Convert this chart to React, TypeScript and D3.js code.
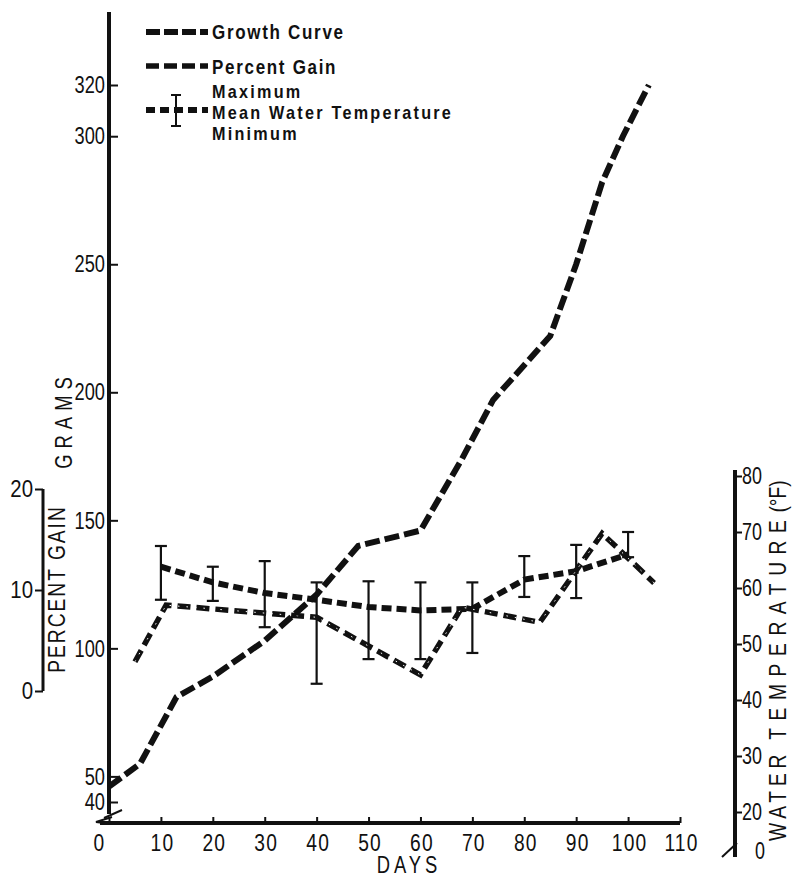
import React, { useEffect, useRef } from "react";
import * as d3 from "d3";

// growth curve (grams)
const growthDays = [0, 6, 13, 20, 30, 40, 48, 60, 68, 74, 85, 90, 95, 99, 104];
const growthGrams = [46, 55, 81, 89, 103, 121, 140, 146, 174, 197, 222, 250, 282, 300, 320];

// percent gain
const gainDays = [5, 11, 40, 60, 68, 83, 95, 105];
const gainPct = [2.9, 8.5, 7.3, 1.6, 8.3, 6.8, 15.6, 10.7];

// water temperature (F)
const tempDays = [10, 20, 30, 40, 50, 60, 70, 80, 90, 100];
const tempMean = [63.8, 61, 59.1, 57.9, 56.6, 56, 56.3, 61.5, 63, 66];
const tempMax = [67.5, 63.8, 64.8, 61, 61.2, 61, 61, 65.7, 67.7, 70];
const tempMin = [57.9, 57.7, 53, 42.9, 47.3, 47.3, 48.4, 58.4, 58.2, 65.5];

const dayTicks = [0, 10, 20, 30, 40, 50, 60, 70, 80, 90, 100, 110];
const gramTicks = [40, 50, 100, 150, 200, 250, 300, 320];
const pctTicks = [0, 10, 20];
const tempTicks = [20, 30, 40, 50, 60, 70, 80];

const FONT = "'Liberation Sans', Arial, sans-serif";
const INK = "#111";
const SQ = 0.8; // horizontal squeeze, the original type is a condensed face

const App = () => {
  const svgRef = useRef<SVGSVGElement>(null);

  useEffect(() => {
    const svg = d3.select(svgRef.current);
    svg.selectAll("*").remove();

    const x = d3.scaleLinear().domain([0, 110]).range([109, 680]);
    const yG = d3.scaleLinear().domain([40, 320]).range([802, 85]);
    const yP = d3.scaleLinear().domain([0, 20]).range([691, 489]);
    const yT = d3.scaleLinear().domain([20, 80]).range([812, 476]);

    const growth = growthDays.map((d, i) => [d, growthGrams[i]]);
    const gain = gainDays.map((d, i) => [d, gainPct[i]]);
    const temp = tempDays.map((d, i) => ({
      day: d,
      mean: tempMean[i],
      max: tempMax[i],
      min: tempMin[i],
    }));

    // axis lines
    const lineAttrs = (sel, w) =>
      sel.attr("stroke", INK).attr("stroke-width", w).attr("fill", "none");

    // grams axis
    lineAttrs(svg.append("line"), 4)
      .attr("x1", x(0)).attr("x2", x(0)).attr("y1", 12).attr("y2", 814);
    lineAttrs(svg.append("path"), 2).attr("d", "M104,818 L122,810");

    // days axis
    lineAttrs(svg.append("line"), 4)
      .attr("x1", 100).attr("x2", x(110)).attr("y1", 823).attr("y2", 823);
    lineAttrs(svg.append("path"), 2).attr("d", "M112,817 L96,822 L104,823");

    // percent axis
    lineAttrs(svg.append("line"), 3)
      .attr("x1", 43).attr("x2", 43).attr("y1", yP(20)).attr("y2", yP(0));

    // temperature axis
    lineAttrs(svg.append("line"), 4)
      .attr("x1", 735).attr("x2", 735).attr("y1", yT(80) - 6).attr("y2", 857);
    lineAttrs(svg.append("path"), 2).attr("d", "M722,857 L737,843");

    const styleAxis = (g, size) => {
      g.select(".domain").remove();
      g.attr("font-family", FONT).attr("font-size", size);
      g.selectAll("line").attr("stroke", INK).attr("stroke-width", 2);
      g.selectAll("text").attr("fill", INK);
    };

    const gAxis = svg
      .append("g")
      .attr("transform", `translate(${x(0)},0)`)
      .call(d3.axisRight(yG).tickValues(gramTicks).tickSize(9).tickFormat(d3.format("d")));
    styleAxis(gAxis, 24);
    gAxis
      .selectAll("text")
      .attr("x", 0)
      .attr("text-anchor", "end")
      .attr("transform", `translate(-4,0) scale(0.76,1)`);

    const pAxis = svg
      .append("g")
      .attr("transform", "translate(43,0)")
      .call(d3.axisLeft(yP).tickValues(pctTicks).tickSize(8).tickFormat(d3.format("d")));
    styleAxis(pAxis, 24);
    pAxis
      .selectAll("text")
      .attr("x", 0)
      .attr("transform", `translate(-10,0) scale(0.85,1)`);

    const tAxis = svg
      .append("g")
      .attr("transform", "translate(735,0)")
      .call(d3.axisRight(yT).tickValues(tempTicks).tickSize(7).tickFormat(d3.format("d")));
    styleAxis(tAxis, 23);
    tAxis
      .selectAll("text")
      .attr("x", 0)
      .attr("transform", `translate(7,0) scale(0.78,1)`);

    svg
      .append("text")
      .attr("transform", `translate(760,859) scale(0.78,1)`)
      .attr("text-anchor", "middle")
      .attr("font-family", FONT)
      .attr("font-size", 23)
      .attr("fill", INK)
      .text("0");

    const xAxis = svg
      .append("g")
      .attr("transform", "translate(0,823)")
      .call(d3.axisBottom(x).tickValues(dayTicks).tickSize(-6).tickFormat(d3.format("d")));
    styleAxis(xAxis, 24);
    xAxis
      .selectAll("text")
      .attr("y", 0)
      .attr("dy", 0)
      .attr("letter-spacing", 1.5)
      .attr("transform", (d) => `translate(${d === 0 ? -10 : 1},28) scale(${SQ},1)`);

    // axis titles
    const title = (tx, ty, rot, txt, size, spacing) =>
      svg
        .append("text")
        .attr("transform", `translate(${tx},${ty}) rotate(${rot}) scale(${SQ},1)`)
        .attr("text-anchor", "middle")
        .attr("font-family", FONT)
        .attr("font-size", size)
        .attr("letter-spacing", spacing)
        .attr("fill", INK)
        .text(txt);

    title(72, 420, -90, "GRAMS", 23, 7.5);
    title(65, 589, -90, "PERCENT GAIN", 24, 2.5);
    title(409, 873, 0, "DAYS", 23, 5);

    const wt = svg
      .append("text")
      .attr("transform", `translate(786,841) rotate(-90) scale(${SQ},1)`)
      .attr("font-family", FONT)
      .attr("font-size", 24)
      .attr("fill", INK);
    wt.append("tspan").attr("letter-spacing", 6).text("WATER ");
    wt.append("tspan").attr("letter-spacing", 9.5).text("TEMPERATURE");
    wt.append("tspan").attr("letter-spacing", 0).text("(°F)");

    // data lines
    const growthLine = d3
      .line()
      .x((d) => x(d[0]))
      .y((d) => yG(d[1]));
    const gainLine = d3
      .line()
      .x((d) => x(d[0]))
      .y((d) => yP(d[1]));
    const tempLine = d3
      .line()
      .x((d) => x(d.day))
      .y((d) => yT(d.mean));

    // error bars
    const bars = svg.append("g").attr("stroke", INK).attr("stroke-width", 2.2);
    temp.forEach((d) => {
      const cx = x(d.day);
      bars.append("line").attr("x1", cx).attr("x2", cx).attr("y1", yT(d.max)).attr("y2", yT(d.min));
      bars.append("line").attr("x1", cx - 6).attr("x2", cx + 6).attr("y1", yT(d.max)).attr("y2", yT(d.max));
      bars.append("line").attr("x1", cx - 6).attr("x2", cx + 6).attr("y1", yT(d.min)).attr("y2", yT(d.min));
    });

    svg
      .append("path")
      .datum(temp)
      .attr("d", tempLine)
      .attr("fill", "none")
      .attr("stroke", INK)
      .attr("stroke-width", 6)
      .attr("stroke-dasharray", "10,5");

    svg
      .append("path")
      .datum(gain)
      .attr("d", gainLine)
      .attr("fill", "none")
      .attr("stroke", INK)
      .attr("stroke-width", 5.5)
      .attr("stroke-dasharray", "13,6");
    svg
      .append("path")
      .datum(gain)
      .attr("d", gainLine)
      .attr("fill", "none")
      .attr("stroke", "#fff")
      .attr("stroke-width", 1)
      .attr("stroke-dasharray", "1.5,7");

    svg
      .append("path")
      .datum(growth)
      .attr("d", growthLine)
      .attr("fill", "none")
      .attr("stroke", INK)
      .attr("stroke-width", 6)
      .attr("stroke-dasharray", "15,5");

    // legend
    const lg = svg.append("g").attr("font-family", FONT).attr("fill", INK);
    const sample = (y, dash, w) =>
      lg
        .append("line")
        .attr("x1", 146)
        .attr("x2", 208)
        .attr("y1", y)
        .attr("y2", y)
        .attr("stroke", INK)
        .attr("stroke-width", w)
        .attr("stroke-dasharray", dash);
    sample(32, "14,4", 6);
    sample(66, "13,5", 5.5);
    sample(110, "9,5", 6);
    lg.append("line").attr("x1", 176).attr("x2", 176).attr("y1", 95).attr("y2", 126).attr("stroke", INK).attr("stroke-width", 2);
    lg.append("line").attr("x1", 171).attr("x2", 181).attr("y1", 95).attr("y2", 95).attr("stroke", INK).attr("stroke-width", 2);
    lg.append("line").attr("x1", 171).attr("x2", 181).attr("y1", 126).attr("y2", 126).attr("stroke", INK).attr("stroke-width", 2);

    const legText = (y, txt, size, sx, spacing) =>
      lg
        .append("text")
        .attr("transform", `translate(212,${y}) scale(${sx},1)`)
        .attr("font-size", size)
        .attr("font-weight", "bold")
        .attr("letter-spacing", spacing)
        .text(txt);
    legText(39, "Growth Curve", 20, 0.85, 2);
    legText(74, "Percent Gain", 20, 0.85, 2);
    legText(98, "Maximum", 18, 0.9, 2.5);
    legText(119, "Mean Water Temperature", 18, 0.9, 2.5);
    legText(140, "Minimum", 18, 0.9, 2.5);
  }, []);

  return (
    <svg
      ref={svgRef}
      width={792}
      height={880}
      style={{ position: "absolute", left: 0, top: 0, background: "#fff", display: "block" }}
    />
  );
};

export default App;
